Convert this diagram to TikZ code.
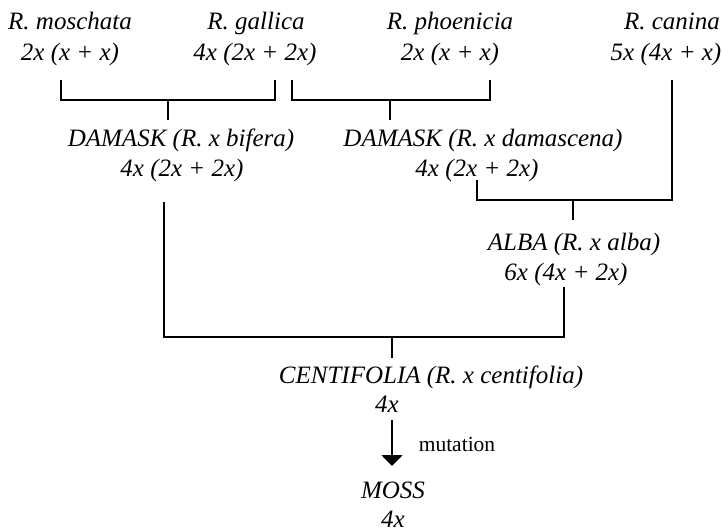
\documentclass[tikz,border=0pt]{standalone}
\usepackage{fontspec}
\setmainfont{Liberation Serif}
\usetikzlibrary{arrows.meta}
\begin{document}
\begin{tikzpicture}[x=1pt,y=-1pt,
  lbl/.style={inner sep=0pt,anchor=base,font=\fontsize{25}{30}\selectfont\itshape},
  note/.style={inner sep=0pt,anchor=base,font=\fontsize{21.5}{25}\selectfont},
  link/.style={line width=1.8pt},
  tip/.style={line width=1.8pt,-{Triangle[width=21pt,length=11pt]}}]
\useasboundingbox (0,0) rectangle (723,531);
% parents
\node[lbl] (mosA) at (70,29) {R. moschata};
\node[lbl] (mosB) at (70,60) {2x (x + x)};
\node[lbl] (galA) at (256,29) {R. gallica};
\node[lbl] (galB) at (255,60) {4x (2x + 2x)};
\node[lbl] (phoA) at (450,29) {R. phoenicia};
\node[lbl] (phoB) at (450,60) {2x (x + x)};
\node[lbl] (canA) at (672,29) {R. canina};
\node[lbl] (canB) at (666,60) {5x (4x + x)};
% damasks
\node[lbl] (bifA) at (181,146) {DAMASK (R. x bifera)};
\node[lbl] (bifB) at (182,176) {4x (2x + 2x)};
\node[lbl] (damA) at (483,146) {DAMASK (R. x damascena)};
\node[lbl] (damB) at (477,176) {4x (2x + 2x)};
% alba
\node[lbl] (albA) at (574,250) {ALBA (R. x alba)};
\node[lbl] (albB) at (566,280) {6x (4x + 2x)};
% centifolia
\node[lbl] (cenA) at (431,383) {CENTIFOLIA (R. x centifolia)};
\node[lbl] (cenB) at (387,412) {4x};
% moss
\node[lbl] (mossA) at (393,498) {MOSS};
\node[lbl] (mossB) at (393,527) {4x};
\node[note] (mut) at (457,451) {mutation};
% connector points
\coordinate (m1) at (61,80);
\coordinate (g1) at (275,80);
\coordinate (h1) at (0,100);
\coordinate (t1) at (168,120);
\coordinate (p1) at (292,80);
\coordinate (q1) at (490,80);
\coordinate (t2) at (390,120);
\coordinate (c1) at (672,80);
\coordinate (d1) at (477,180);
\coordinate (h2) at (0,200);
\coordinate (t3) at (573,220);
\coordinate (b1) at (164,202);
\coordinate (a1) at (564,287);
\coordinate (h3) at (0,337);
\coordinate (t4) at (392,358);
\coordinate (ar1) at (392,420);
\coordinate (ar2) at (392,466);
% brackets
\draw[link] (m1) -- (m1 |- h1) -- (g1 |- h1) -- (g1);
\draw[link] (t1 |- h1) -- (t1);
\draw[link] (p1) -- (p1 |- h1) -- (q1 |- h1) -- (q1);
\draw[link] (t2 |- h1) -- (t2);
\draw[link] (c1) -- (c1 |- h2) -- (d1 |- h2) -- (d1);
\draw[link] (t3 |- h2) -- (t3);
\draw[link] (b1) -- (b1 |- h3) -- (a1 |- h3) -- (a1);
\draw[link] (t4 |- h3) -- (t4);
\draw[tip] (ar1) -- (ar2);
\end{tikzpicture}
\end{document}
